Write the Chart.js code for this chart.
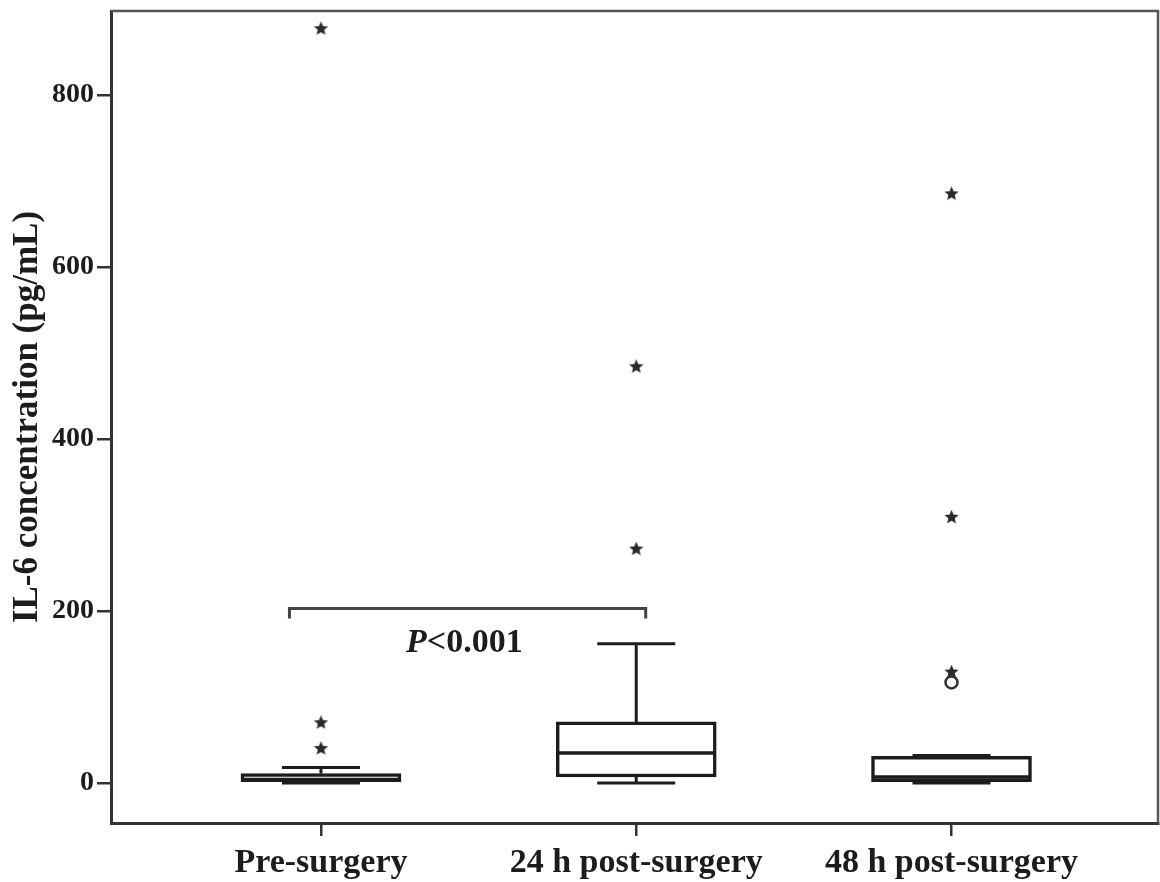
<!DOCTYPE html>
<html>
<head>
<meta charset="utf-8">
<title>IL-6 concentration</title>
<script src="https://cdn.jsdelivr.net/npm/chart.js@4.4.1/dist/chart.umd.min.js"></script>
<style>
html, body { margin: 0; padding: 0; background: #fff; }
canvas { display: block; }
</style>
</head>
<body>
<canvas id="chart" width="1160" height="882"></canvas>
<script>
// data
const categories = ['Pre-surgery', '24 h post-surgery', '48 h post-surgery'];
const q1 = [0, 7, 0];
const median = [4, 35, 7];
const q3 = [11, 71, 31];
const whiskerLow = [0, 0, 0];
const whiskerHigh = [18, 162, 32];
const extremes = [[877, 70, 40], [484, 272], [685, 309, 129]];   // stars
const outliers = [[], [], [117]];                                  // circles
const yTicks = [0, 200, 400, 600, 800];

// comparison bracket and label
const bracketX = [0.9, 2.03];
const bracketY = 203;
const pLabel = ['P', '<0.001'];
const pLabelAt = { x: 1.27, y: 163 };

const serif = '"Liberation Serif", "DejaVu Serif", serif';
const ink = '#1c1c1c';

// filled five-point star used for extreme values
function makeStar(size, color) {
    const c = document.createElement('canvas');
    c.width = size;
    c.height = size;
    const g = c.getContext('2d');
    const R = size / 2, r = R * 0.45;
    g.beginPath();
    for (let i = 0; i < 10; i++) {
        const a = -Math.PI / 2 + i * Math.PI / 5;
        const rad = i % 2 ? r : R;
        g.lineTo(R + rad * Math.cos(a), R + rad * Math.sin(a));
    }
    g.closePath();
    g.fillStyle = color;
    g.fill();
    return c;
}
const star = makeStar(15, '#2a2a2a');

const boxData = categories.map((c, i) => ({ x: i + 1, y: [q1[i], q3[i]] }));
const starData = [];
extremes.forEach((list, i) => list.forEach(v => starData.push({ x: i + 1, y: v })));
const circleData = [];
outliers.forEach((list, i) => list.forEach(v => circleData.push({ x: i + 1, y: v })));

const boxParts = {
    id: 'boxParts',
    beforeDatasetsDraw(chart) {
        const { ctx, scales: { x, y } } = chart;
        ctx.save();
        ctx.strokeStyle = ink;
        ctx.lineWidth = 3;
        categories.forEach((c, i) => {
            const px = x.getPixelForValue(i + 1);
            // whiskers
            ctx.beginPath();
            ctx.moveTo(px, y.getPixelForValue(q3[i]));
            ctx.lineTo(px, y.getPixelForValue(whiskerHigh[i]));
            ctx.moveTo(px, y.getPixelForValue(q1[i]));
            ctx.lineTo(px, y.getPixelForValue(whiskerLow[i]));
            ctx.stroke();
            // caps
            ctx.beginPath();
            [whiskerHigh[i], whiskerLow[i]].forEach(v => {
                const py = y.getPixelForValue(v);
                ctx.moveTo(px - 39, py);
                ctx.lineTo(px + 39, py);
            });
            ctx.stroke();
        });
        ctx.restore();
    },
    afterDatasetsDraw(chart) {
        const { ctx, scales: { x, y } } = chart;
        ctx.save();
        ctx.strokeStyle = ink;
        ctx.lineWidth = 3.5;
        // medians
        categories.forEach((c, i) => {
            const px = x.getPixelForValue(i + 1);
            const py = y.getPixelForValue(median[i]);
            ctx.beginPath();
            ctx.moveTo(px - 79, py);
            ctx.lineTo(px + 79, py);
            ctx.stroke();
        });
        // bracket
        const bx0 = x.getPixelForValue(bracketX[0]);
        const bx1 = x.getPixelForValue(bracketX[1]);
        const by = y.getPixelForValue(bracketY);
        ctx.strokeStyle = '#444';
        ctx.lineWidth = 3;
        ctx.beginPath();
        ctx.moveTo(bx0, by + 10);
        ctx.lineTo(bx0, by);
        ctx.lineTo(bx1, by);
        ctx.lineTo(bx1, by + 10);
        ctx.stroke();
        // p value
        let tx = x.getPixelForValue(pLabelAt.x);
        const ty = y.getPixelForValue(pLabelAt.y);
        ctx.fillStyle = ink;
        ctx.textBaseline = 'middle';
        ctx.textAlign = 'left';
        ctx.font = 'italic bold 34px ' + serif;
        ctx.fillText(pLabel[0], tx, ty);
        tx += ctx.measureText(pLabel[0]).width;
        ctx.font = 'bold 34px ' + serif;
        ctx.fillText(pLabel[1], tx, ty);
        ctx.restore();
    },
    afterDraw(chart) {
        // top and right edges of the frame
        const { ctx, chartArea: a } = chart;
        ctx.save();
        ctx.strokeStyle = '#555';
        ctx.lineWidth = 2.5;
        ctx.beginPath();
        ctx.moveTo(a.left, a.top);
        ctx.lineTo(a.right, a.top);
        ctx.lineTo(a.right, a.bottom);
        ctx.stroke();
        ctx.restore();
    }
};

new Chart(document.getElementById('chart'), {
    data: {
        datasets: [
            {
                type: 'bar',
                data: boxData,
                backgroundColor: '#fff',
                borderColor: ink,
                borderWidth: 3.5,
                borderSkipped: false,
                barThickness: 160,
                order: 2
            },
            {
                type: 'scatter',
                data: starData,
                pointStyle: star,
                order: 1
            },
            {
                type: 'scatter',
                data: circleData,
                pointStyle: 'circle',
                pointRadius: 6,
                pointBorderWidth: 2.5,
                pointBackgroundColor: '#fff',
                pointBorderColor: '#333',
                order: 1
            }
        ]
    },
    options: {
        responsive: false,
        animation: false,
        devicePixelRatio: 1,
        layout: { autoPadding: false, padding: { top: 11, right: 2, left: 0, bottom: 0 } },
        plugins: {
            legend: { display: false },
            tooltip: { enabled: false }
        },
        scales: {
            x: {
                type: 'linear',
                min: 0.334,
                max: 3.655,
                offset: false,
                afterBuildTicks(scale) {
                    scale.ticks = categories.map((c, i) => ({ value: i + 1 }));
                },
                afterFit(scale) {
                    scale.height = 59;
                    scale.paddingLeft = 0;
                    scale.paddingRight = 0;
                },
                ticks: {
                    callback: v => categories[v - 1],
                    color: ink,
                    font: { family: serif, size: 34, weight: 'bold' },
                    padding: 7,
                    maxRotation: 0,
                    autoSkip: false
                },
                grid: {
                    offset: false,
                    drawOnChartArea: false,
                    drawTicks: true,
                    tickLength: 13,
                    color: '#333',
                    lineWidth: 2.5
                },
                border: { display: true, color: '#333', width: 3 }
            },
            y: {
                type: 'linear',
                min: -46.5,
                max: 897.7,
                afterBuildTicks(scale) {
                    scale.ticks = yTicks.map(v => ({ value: v }));
                },
                afterFit(scale) {
                    scale.width = 111;
                    scale.paddingTop = 0;
                    scale.paddingBottom = 0;
                },
                ticks: {
                    color: ink,
                    font: { family: serif, size: 28, weight: 'bold' },
                    padding: 3
                },
                grid: {
                    drawOnChartArea: false,
                    drawTicks: true,
                    tickLength: 14,
                    color: '#333',
                    lineWidth: 2.5
                },
                border: { display: true, color: '#333', width: 3 },
                title: {
                    display: true,
                    text: 'IL-6 concentration (pg/mL)',
                    color: ink,
                    font: { family: serif, size: 35, weight: 'bold' },
                    padding: { top: 7, bottom: 0 }
                }
            }
        }
    },
    plugins: [boxParts]
});
</script>
</body>
</html>
